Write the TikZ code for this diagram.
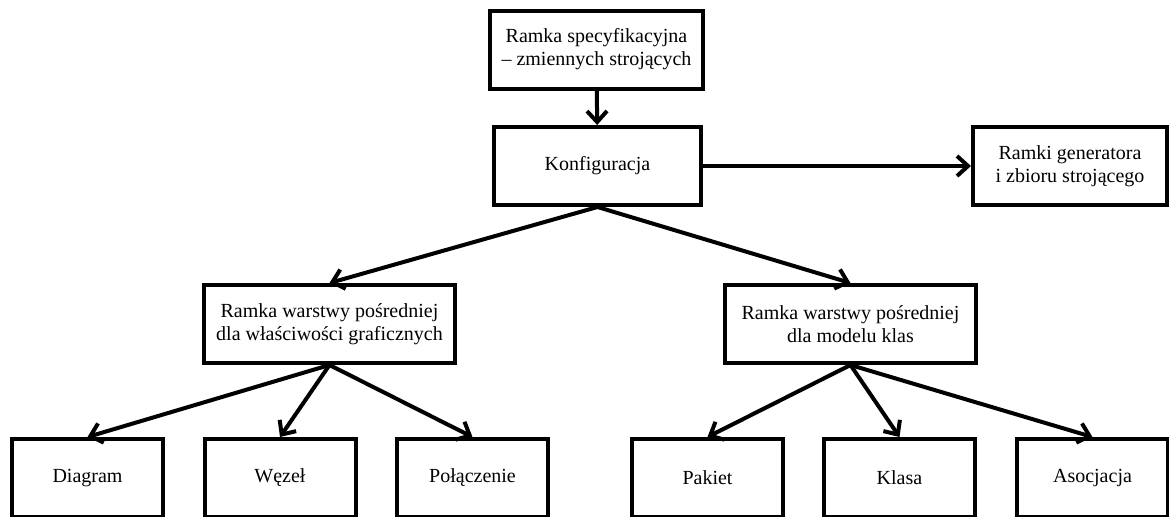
\documentclass[tikz,border=0pt]{standalone}
\usepackage{fontspec}
\setmainfont{Liberation Serif}
\usetikzlibrary{arrows.meta}

\tikzset{
  frame/.style={draw,line width=2pt,minimum height=39pt,inner sep=0pt,
    align=center,font=\fontsize{10}{11.5}\selectfont},
  conn/.style={->,line width=2pt},
}

\begin{document}
\begin{tikzpicture}[x=0.5pt,y=-0.5pt,>={Straight Barb[length=5.5pt,width=10pt]}]
  \useasboundingbox (0,0) rectangle (1169,516);
  \node[frame,minimum width=106.5pt] (spec) at (596.5,49.5) {Ramka specyfikacyjna\\-- zmiennych strojących};
  \node[frame,minimum width=103.5pt] (konf) at (597.5,166) {Konfiguracja};
  \node[frame,minimum width=97pt] (gen) at (1070,166) {Ramki generatora\\i zbioru strojącego};
  \node[frame,minimum width=125.5pt] (graf) at (329.5,324) {Ramka warstwy pośredniej\\dla właściwości graficznych};
  \node[frame,minimum width=125.5pt] (model) at (850.5,324) {Ramka warstwy pośredniej\\dla modelu klas};
  \node[frame,minimum width=75.5pt] (diag) at (87.5,478) {Diagram};
  \node[frame,minimum width=75.5pt] (wezel) at (280,478) {Węzeł};
  \node[frame,minimum width=75.5pt] (polacz) at (472.5,478) {Połączenie};
  \node[frame,minimum width=75.5pt] (pakiet) at (707.5,478) {Pakiet};
  \node[frame,minimum width=75.5pt] (klasa) at (899.5,478) {Klasa};
  \node[frame,minimum width=75.5pt] (asoc) at (1092.5,478) {Asocjacja};

  \draw[conn] (spec) -- (konf);
  \draw[conn] (konf) -- (gen);
  \draw[conn] (konf.south) -- (graf.north);
  \draw[conn] (konf.south) -- (model.north);
  \draw[conn] (graf.south) -- (diag.north);
  \draw[conn] (graf.south) -- (wezel.north);
  \draw[conn] (graf.south) -- (polacz.north);
  \draw[conn] (model.south) -- (pakiet.north);
  \draw[conn] (model.south) -- (klasa.north);
  \draw[conn] (model.south) -- (asoc.north);
\end{tikzpicture}
\end{document}
